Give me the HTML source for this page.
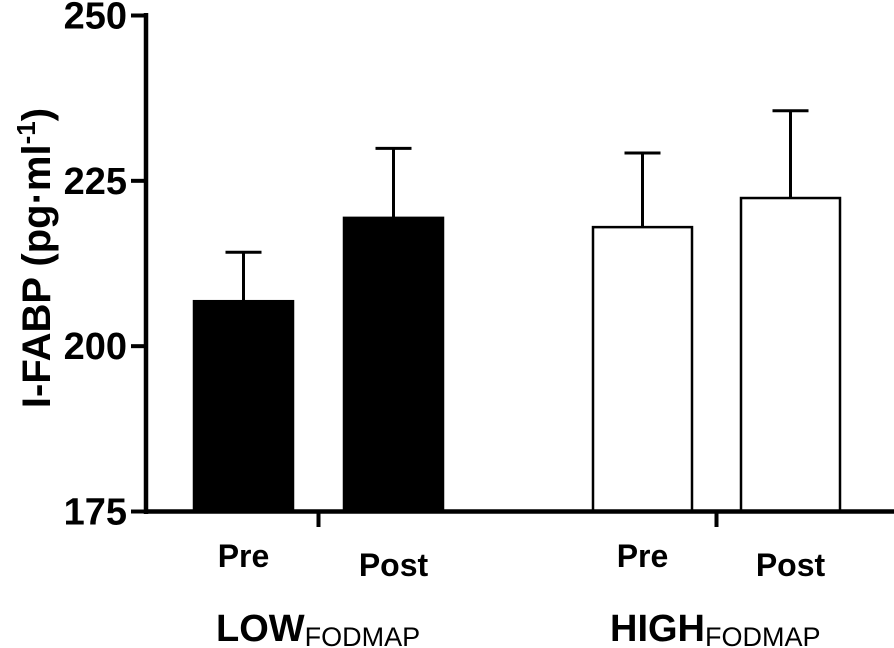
<!DOCTYPE html>
<html><head><meta charset="utf-8"><style>
body{margin:0;background:#fff}
svg{display:block;font-family:"Liberation Sans",Arial,sans-serif;font-weight:bold}
</style></head><body>
<svg id="chart" width="894" height="648" viewBox="0 0 894 648" xmlns="http://www.w3.org/2000/svg"></svg>
<script>
const categories=["Pre","Post","Pre","Post"];
const groups=["LOW","HIGH"];
const means=[206.8,219.4,218.0,222.4];
const sems=[7.4,10.5,11.2,13.2];
const fills=["#000","#000","#fff","#fff"];
const yTicks=[175,200,225,250];
const svg=document.getElementById('chart');
const NS='http://www.w3.org/2000/svg';
const y0=511.5,y1=15.5,vmin=175,vmax=250;
function yScale(v){return y0-(v-vmin)/(vmax-vmin)*(y0-y1);}
const barX=[194,344,593,741],barW=99;
function xCenter(i){return barX[i]+barW/2;}
function mk(tag,attrs){const e=document.createElementNS(NS,tag);for(const k in attrs)e.setAttribute(k,attrs[k]);svg.appendChild(e);return e;}
means.forEach((m,i)=>{
  const cx=xCenter(i),top=yScale(m),et=yScale(m+sems[i]);
  const l=mk('line',{x1:cx,x2:cx,y1:top,y2:et,stroke:'#000','stroke-width':3});
  
  
  const c=mk('line',{x1:cx-18,x2:cx+18,y1:et,y2:et,stroke:'#000','stroke-width':3});
  
  
  const r=mk('rect',{x:barX[i],y:top,width:barW,height:y0-top,fill:fills[i],stroke:'#000','stroke-width':2.5});
  
  
});
const ya=mk('line',{x1:146,x2:146,y1:13,y2:514,stroke:'#000','stroke-width':4.5});


const xa=mk('line',{x1:144,x2:894,y1:y0,y2:y0,stroke:'#000','stroke-width':4.5});


yTicks.forEach(t=>{
  const y=yScale(t);
  const tk=mk('line',{x1:131,x2:146,y1:y,y2:y,stroke:'#000','stroke-width':4});
  
  
  const tx=mk('text',{x:127,y:y+13,'text-anchor':'end','font-size':38});
  tx.textContent=t;
  
  
});
[0,1].forEach(g=>{
  const x=(xCenter(2*g)+xCenter(2*g+1))/2;
  const tk=mk('line',{x1:x,x2:x,y1:y0,y2:527,stroke:'#000','stroke-width':4});
  
  
});
categories.forEach((c,i)=>{
  const t=mk('text',{x:xCenter(i)+(i%2?0:0),y:(i%2?576:567),'text-anchor':'middle','font-size':(i%2?32:32)});
  t.textContent=c;
  
  
});
</script>
<svg style="position:absolute;left:0;top:0" width="894" height="648" xmlns="http://www.w3.org/2000/svg" font-family="Liberation Sans, Arial, sans-serif" font-weight="bold">
<text x="216" y="641" font-size="38">LOW<tspan font-size="27" dy="5" font-weight="normal">FODMAP</tspan></text>
<text x="610" y="641" font-size="38">HIGH<tspan font-size="27" dy="5" font-weight="normal">FODMAP</tspan></text>
<text transform="translate(50,258) rotate(-90)" text-anchor="middle" font-size="40">I-FABP (pg·ml<tspan font-size="26" dy="-15">-1</tspan><tspan dy="15">)</tspan></text>
</svg>
</body></html>
